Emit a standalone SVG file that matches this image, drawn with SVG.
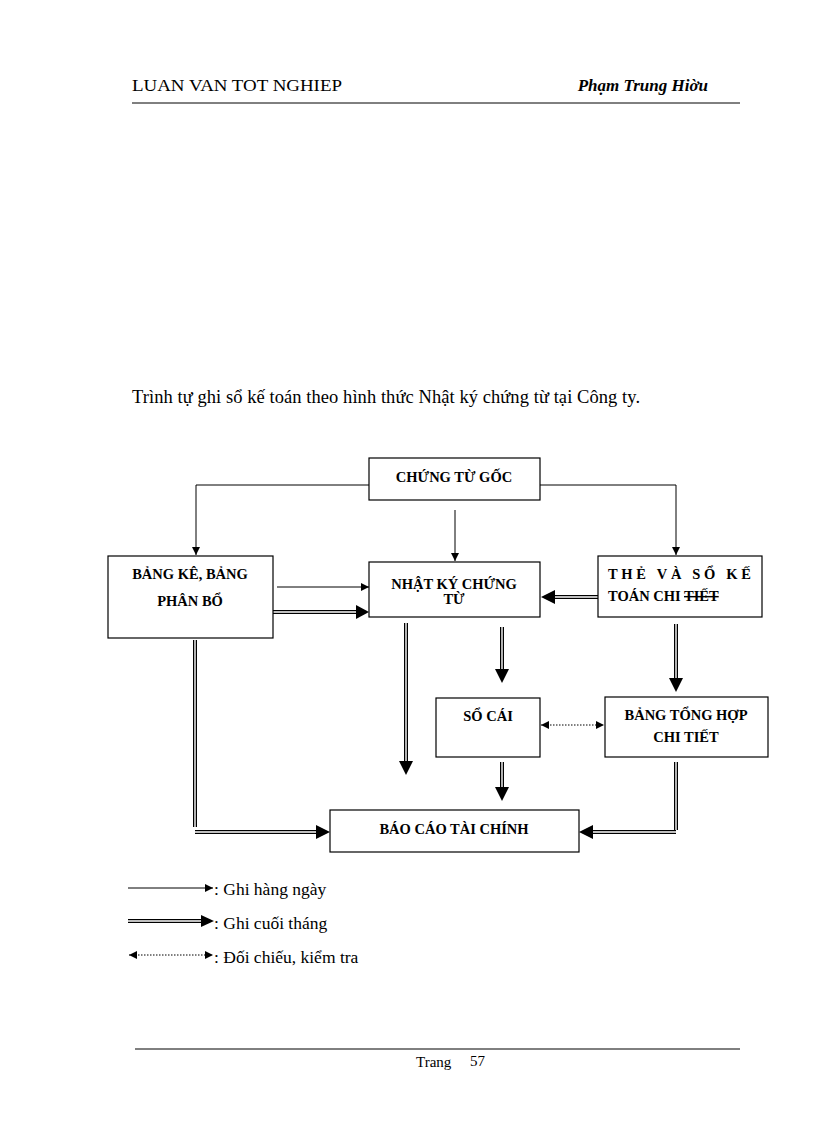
<svg xmlns="http://www.w3.org/2000/svg" width="816" height="1123" viewBox="0 0 816 1123">
<defs>
<style>
.t{font-family:"Liberation Serif",serif;fill:#000}
.b{font-family:"Liberation Serif",serif;font-weight:bold;font-size:14.5px;text-anchor:middle}
.box{fill:#fff;stroke:#000;stroke-width:1.2}
.thin{fill:none;stroke:#000;stroke-width:1}
.dbo{fill:none;stroke:#000;stroke-width:4}
.dbi{fill:none;stroke:#fff;stroke-width:1.4}
.dot{fill:none;stroke:#000;stroke-width:1;stroke-dasharray:1.5 1.5}
</style>
<marker id="a" markerWidth="8" markerHeight="8" refX="8" refY="4" orient="auto" markerUnits="userSpaceOnUse"><path d="M0,0 L8,4 L0,8 Z" fill="#000"/></marker>
<marker id="s" markerWidth="8" markerHeight="8" refX="0" refY="4" orient="auto" markerUnits="userSpaceOnUse"><path d="M8,0 L0,4 L8,8 Z" fill="#000"/></marker>
</defs>
<rect width="816" height="1123" fill="#fff"/>
<g id="header">
<text class="t" x="132" y="91" font-size="17.5" textLength="210" lengthAdjust="spacingAndGlyphs">LUAN VAN TOT NGHIEP</text>
<text class="t" x="708" y="91" font-size="17" font-weight="bold" font-style="italic" style="text-anchor:end">Phạm Trung Hiờu</text>
<line x1="132" y1="103" x2="740" y2="103" stroke="#000" stroke-width="1"/>
</g>
<text class="t" x="132" y="403" font-size="18.5" textLength="508" lengthAdjust="spacing">Trình tự ghi sổ kế toán theo hình thức Nhật ký chứng từ tại Công ty.</text>
<g id="connectors">
<path class="thin" d="M369,485 H196 V555" marker-end="url(#a)"/>
<path class="thin" d="M540,485 H676 V555" marker-end="url(#a)"/>
<path class="thin" d="M455,510 V561" marker-end="url(#a)"/>
<path class="thin" d="M277,587 H369" marker-end="url(#a)"/>
<g>
<path class="dbo" d="M270,612 H358"/><path class="dbi" d="M270,612 H358"/>
<path d="M356,605 L369,612 L356,619 Z"/>
<path class="dbo" d="M598,597 H553"/><path class="dbi" d="M598,597 H553"/>
<path d="M555,590 L541,597 L555,604 Z"/>
<path class="dbo" d="M406,623 V763"/><path class="dbi" d="M406,623 V763"/>
<path d="M399,761 L406,775 L413,761 Z"/>
<path class="dbo" d="M502,627 V671"/><path class="dbi" d="M502,627 V671"/>
<path d="M495,669 L502,683 L509,669 Z"/>
<path class="dbo" d="M676,624 V680"/><path class="dbi" d="M676,624 V680"/>
<path d="M669,678 L676,692 L683,678 Z"/>
<path class="dbo" d="M502,762 V789"/><path class="dbi" d="M502,762 V789"/>
<path d="M495,787 L502,801 L509,787 Z"/>
<path class="dbo" d="M195,640 V827"/><path class="dbi" d="M195,640 V827"/>
<path class="dbo" d="M195,832 H318"/><path class="dbi" d="M195,832 H318"/>
<path d="M316,825 L330,832 L316,839 Z"/>
<path class="dbo" d="M676,762 V830"/><path class="dbi" d="M676,762 V830"/>
<path class="dbo" d="M676,832 H591"/><path class="dbi" d="M676,832 H591"/>
<path d="M593,825 L579,832 L593,839 Z"/>
</g>
<path class="dot" d="M541,725 H604" marker-start="url(#s)" marker-end="url(#a)"/>
</g>
<g id="ctg"><rect class="box" x="369" y="458" width="171" height="42"/><text class="b" x="454" y="482">CHỨNG TỪ GỐC</text></g>
<g id="bke"><rect class="box" x="108" y="556" width="165" height="82"/><text class="b" x="190" y="579">BẢNG KÊ, BẢNG</text><text class="b" x="190" y="606">PHÂN BỔ</text></g>
<g id="nkct"><rect class="box" x="369" y="562" width="171" height="55"/><text class="b" x="454" y="589">NHẬT KÝ CHỨNG</text><text class="b" x="454" y="604">TỪ</text></g>
<g id="the"><rect class="box" x="598" y="556" width="164" height="61"/><text class="b" x="608" y="579" style="text-anchor:start" textLength="143" lengthAdjust="spacing">THẺ VÀ SỔ KẾ</text><text class="b" x="608" y="601" style="text-anchor:start">TOÁN CHI <tspan text-decoration="line-through">TIẾT</tspan></text></g>
<g id="socai"><rect class="box" x="436" y="698" width="104" height="59"/><text class="b" x="488" y="721">SỔ CÁI</text></g>
<g id="bth"><rect class="box" x="605" y="697" width="163" height="60"/><text class="b" x="686" y="720">BẢNG TỔNG HỢP</text><text class="b" x="686" y="742">CHI TIẾT</text></g>
<g id="bctc"><rect class="box" x="330" y="810" width="249" height="42"/><text class="b" x="454" y="834">BÁO CÁO TÀI CHÍNH</text></g>
<g id="legend">
<path class="thin" d="M128,888 H213" marker-end="url(#a)"/>
<text class="t" x="214" y="895" font-size="17.5">: Ghi hàng ngày</text>
<path class="dbo" d="M128,921 H203"/><path class="dbi" d="M128,921 H203"/>
<path d="M201,915 L214,921 L201,927 Z"/>
<text class="t" x="214" y="929" font-size="17.5">: Ghi cuối tháng</text>
<path class="dot" d="M129,955 H213" marker-start="url(#s)" marker-end="url(#a)"/>
<text class="t" x="214" y="963" font-size="17.5">: Đối chiếu, kiểm tra</text>
</g>
<g id="footer">
<line x1="135" y1="1049" x2="740" y2="1049" stroke="#000" stroke-width="1"/>
<text class="t" x="416" y="1067" font-size="15">Trang</text>
<text class="t" x="470" y="1066" font-size="15">57</text>
</g>
</svg>
